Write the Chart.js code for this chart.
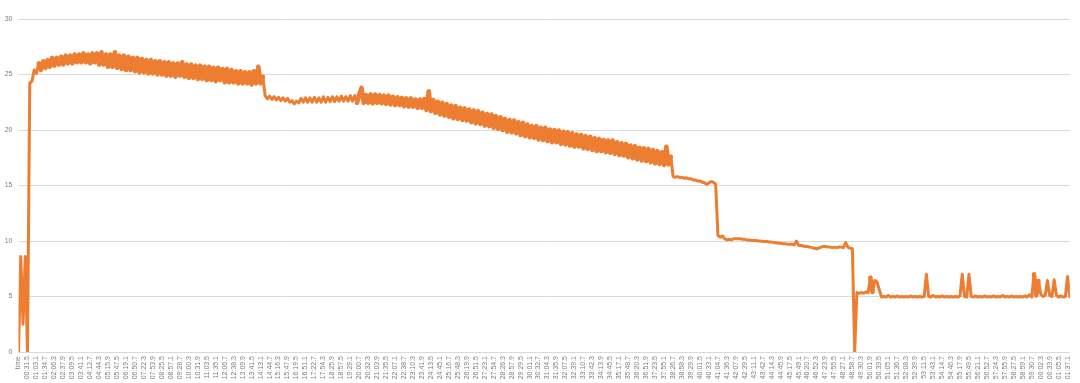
<!DOCTYPE html>
<html>
<head>
<meta charset="utf-8">
<script src="https://cdn.jsdelivr.net/npm/chart.js@4/dist/chart.umd.min.js"></script>
<style>
  html, body { margin: 0; padding: 0; background: #fff; }
  #wrap { width: 1080px; height: 383px; }
</style>
</head>
<body>
<div id="wrap"><canvas id="chart" width="1080" height="383"></canvas></div>
<script>
// logger samples, one every 7.9 s
const SAMPLE_STEP_S = 7.9;
// Excel shows a category label every 31.6 s, first one is the "time" header
const TICK_FIRST_S = -0.1;
const TICK_STEP_S = 31.6;

const tickLabels = [
  "time",
  "00:31.5", "01:03.1", "01:34.7", "02:06.3", "02:37.9", "03:09.5", "03:41.1", "04:12.7", "04:44.3", "05:15.9",
  "05:47.5", "06:19.1", "06:50.7", "07:22.3", "07:53.9", "08:25.5", "08:57.1", "09:28.7", "10:00.3", "10:31.9",
  "11:03.5", "11:35.1", "12:06.7", "12:38.3", "13:09.9", "13:41.5", "14:13.1", "14:44.7", "15:16.3", "15:47.9",
  "16:19.5", "16:51.1", "17:22.7", "17:54.3", "18:25.9", "18:57.5", "19:29.1", "20:00.7", "20:32.3", "21:03.9",
  "21:35.5", "22:07.1", "22:38.7", "23:10.3", "23:41.9", "24:13.5", "24:45.1", "25:16.7", "25:48.3", "26:19.9",
  "26:51.5", "27:23.1", "27:54.7", "28:26.3", "28:57.9", "29:29.5", "30:01.1", "30:32.7", "31:04.3", "31:35.9",
  "32:07.5", "32:39.1", "33:10.7", "33:42.3", "34:13.9", "34:45.5", "35:17.1", "35:48.7", "36:20.3", "36:51.9",
  "37:23.5", "37:55.1", "38:26.7", "38:58.3", "39:29.9", "40:01.5", "40:33.1", "41:04.7", "41:36.3", "42:07.9",
  "42:39.5", "43:11.1", "43:42.7", "44:14.3", "44:45.9", "45:17.5", "45:49.1", "46:20.7", "46:52.3", "47:23.9",
  "47:55.5", "48:27.1", "48:58.7", "49:30.3", "50:01.9", "50:33.5", "51:05.1", "51:36.7", "52:08.3", "52:39.9",
  "53:11.5", "53:43.1", "54:14.7", "54:46.3", "55:17.9", "55:49.5", "56:21.1", "56:52.7", "57:24.3", "57:55.9",
  "58:27.5", "58:59.1", "59:30.7", "00:02.3", "00:33.9", "01:05.5", "01:37.1"
];

const tempValues = [
  // start-up flicker
  0, 8.6, 2.5, 8.6, 0, 24.2,
  // first plateau, noisy
  24.4, 25.4, 25.1, 26.0, 25.4, 26.2, 25.6, 26.3, 25.7, 26.5,
  25.8, 26.5, 25.9, 26.6, 25.9, 26.7, 26.0, 26.7, 26.0, 26.8,
  26.1, 26.8, 26.1, 26.9, 26.1, 26.8, 26.0, 26.9, 26.1, 26.9,
  25.9, 27.0, 25.9, 26.8, 25.7, 26.8, 25.7, 27.0, 25.6, 26.7,
  25.5, 26.7, 25.4, 26.6, 25.4, 26.5, 25.3, 26.5, 25.2, 26.4,
  25.2, 26.3, 25.1, 26.3, 25.1, 26.2, 25.0, 26.2, 25.0, 26.1,
  24.9, 26.1, 24.9, 26.0, 24.8, 26.0, 24.9, 26.1, 24.8, 25.9,
  24.7, 25.9, 24.7, 25.8, 24.6, 25.8, 24.6, 25.7, 24.5, 25.7,
  24.5, 25.6, 24.4, 25.6, 24.5, 25.5, 24.3, 25.5, 24.3, 25.4,
  24.3, 25.3, 24.2, 25.3, 24.2, 25.2, 24.2, 25.2, 24.1, 25.3,
  24.2, 25.7, 24.2, 24.8,
  // second plateau then long slope
  23.1, 22.8, 23.05, 22.75, 23.0, 22.7, 22.95, 22.65, 22.9, 22.6,
  22.85, 22.5, 22.65, 22.35, 22.6, 22.45, 22.85, 22.5, 22.9, 22.5,
  22.9, 22.5, 22.95, 22.5, 22.9, 22.5, 23.0, 22.5, 22.95, 22.55,
  23.0, 22.55, 23.0, 22.6, 23.05, 22.6, 23.0, 22.6, 23.1, 22.6,
  23.1, 22.45, 23.2, 23.8, 22.45, 23.15, 22.45, 23.2, 22.4, 23.2,
  22.45, 23.15, 22.4, 23.1, 22.35, 23.1, 22.3, 23.0, 22.25, 22.95,
  22.25, 22.9, 22.15, 22.85, 22.1, 22.85, 22.1, 22.75, 22.0, 22.75,
  22.0, 22.8, 21.8, 23.5, 21.7, 22.7, 21.55, 22.55, 21.4, 22.45,
  21.3, 22.35, 21.2, 22.2, 21.05, 22.15, 21.0, 22.0, 20.9, 21.95,
  20.85, 21.85, 20.7, 21.75, 20.6, 21.7, 20.55, 21.55, 20.4, 21.45,
  20.35, 21.4, 20.2, 21.25, 20.1, 21.15, 20.0, 21.0, 19.85, 20.9,
  19.8, 20.85, 19.7, 20.7, 19.55, 20.65, 19.45, 20.5, 19.35, 20.35,
  19.3, 20.35, 19.15, 20.2, 19.1, 20.2, 19.0, 20.05, 18.9, 20.0,
  18.9, 19.95, 18.75, 19.85, 18.7, 19.8, 18.6, 19.7, 18.5, 19.6,
  18.5, 19.55, 18.35, 19.45, 18.3, 19.4, 18.2, 19.25, 18.1, 19.2,
  18.1, 19.1, 18.0, 19.05, 17.95, 19.05, 17.85, 18.9, 17.75, 18.8,
  17.7, 18.75, 17.55, 18.6, 17.45, 18.55, 17.35, 18.4, 17.25, 18.35,
  17.2, 18.3, 17.1, 18.2, 17.0, 18.1, 16.95, 18.0, 16.85, 18.5,
  16.9, 17.6,
  // ~15.5 step
  15.8, 15.75, 15.8, 15.7, 15.75, 15.65, 15.7, 15.6, 15.6, 15.5,
  15.5, 15.4, 15.4, 15.3, 15.25, 15.1, 15.25, 15.35, 15.3, 15.1,
  // ~10 step
  10.5, 10.35, 10.45, 10.2, 10.1, 10.15, 10.1, 10.2, 10.2, 10.2,
  10.2, 10.15, 10.15, 10.1, 10.1, 10.05, 10.05, 10.05, 10.0, 10.0,
  9.95, 9.95, 9.95, 9.9, 9.9, 9.85, 9.85, 9.8, 9.8, 9.75,
  9.75, 9.7, 9.7, 9.7, 9.65, 10.0, 9.6, 9.6, 9.55, 9.5,
  9.5, 9.45, 9.4, 9.35, 9.3, 9.35, 9.45, 9.5, 9.5, 9.45,
  9.45, 9.4, 9.45, 9.4, 9.45, 9.45, 9.4, 9.85, 9.45, 9.35, 9.3,
  // dropout, then ~5 step with spikes
  0, 5.35, 5.3, 5.35, 5.3, 5.4, 5.35, 6.7, 5.4, 6.45,
  6.3, 5.6, 4.95, 5.0, 4.95, 5.1, 4.95, 5.0, 4.95, 5.05,
  4.95, 5.0, 4.95, 5.0, 4.95, 5.05, 4.95, 5.0, 4.95, 5.0,
  4.95, 5.0, 7.0, 5.0, 4.95, 5.1, 4.95, 5.0, 4.95, 5.05,
  4.95, 5.0, 4.95, 5.0, 4.95, 5.0, 4.95, 5.05, 7.0, 5.0,
  4.95, 7.0, 5.0, 4.95, 5.05, 4.95, 5.0, 4.95, 5.05, 4.95,
  5.0, 4.95, 5.05, 4.95, 5.0, 4.95, 5.1, 4.95, 5.0, 4.95,
  5.05, 4.95, 5.0, 4.95, 5.0, 4.95, 5.05, 4.95, 5.15, 4.95,
  7.0, 5.1, 6.4, 5.2, 5.0, 5.1, 6.45, 5.1, 5.0, 6.5,
  5.1, 4.95, 5.05, 4.95, 5.0, 6.8, 4.95
];

const yTicks = { min: 0, max: 30, step: 5 };

const points = tempValues.map((v, i) => ({ x: i * SAMPLE_STEP_S, y: v }));
const lastSample = (tempValues.length - 1) * SAMPLE_STEP_S;

// in the jittery stretches the excel line is a solid band, so draw those segments a bit wider
// (big jumps like the start-up flicker stay thin)
const JITTER_MIN = 0.5;
const JITTER_MAX = 3;
function jump(i) {
  if (i < 0 || i >= tempValues.length - 1) return 0;
  return Math.abs(tempValues[i + 1] - tempValues[i]);
}
function isJitter(i) {
  return [i - 1, i, i + 1].every((k) => jump(k) > JITTER_MIN && jump(k) < JITTER_MAX);
}

const gridColor = "#d9d9d9";
const labelColor = "#7f7f7f";

new Chart(document.getElementById("chart"), {
  type: "line",
  data: {
    datasets: [{
      data: points,
      borderColor: "#ed7d31",
      borderWidth: 3,
      borderJoinStyle: "round",
      borderCapStyle: "round",
      pointRadius: 0,
      tension: 0,
      fill: false,
      segment: {
        borderWidth: (ctx) => (isJitter(ctx.p0DataIndex) ? 4.5 : 3),
      },
    }],
  },
  options: {
    responsive: false,
    animation: false,
    layout: { padding: { top: 19, right: 5, left: 3, bottom: 0 } },
    plugins: { legend: { display: false }, tooltip: { enabled: false } },
    scales: {
      x: {
        type: "linear",
        min: TICK_FIRST_S,
        max: lastSample,
        afterBuildTicks: (axis) => {
          axis.ticks = tickLabels.map((_, i) => ({ value: TICK_FIRST_S + i * TICK_STEP_S }));
        },
        afterFit: (axis) => { axis.height = 31; },
        grid: { display: false, drawTicks: false },
        border: { display: true, color: gridColor, width: 1 },
        ticks: {
          autoSkip: false,
          minRotation: 90,
          maxRotation: 90,
          padding: 4,
          color: labelColor,
          font: { family: "Liberation Sans", size: 7 },
          callback: (value, index) => tickLabels[index],
        },
      },
      y: {
        min: yTicks.min,
        max: yTicks.max,
        afterFit: (axis) => { axis.width = 15.5; },
        grid: { color: gridColor, lineWidth: 1, drawTicks: false },
        border: { display: false },
        ticks: {
          stepSize: yTicks.step,
          padding: 6,
          color: labelColor,
          font: { family: "Liberation Sans", size: 7 },
        },
      },
    },
  },
});
</script>
</body>
</html>
